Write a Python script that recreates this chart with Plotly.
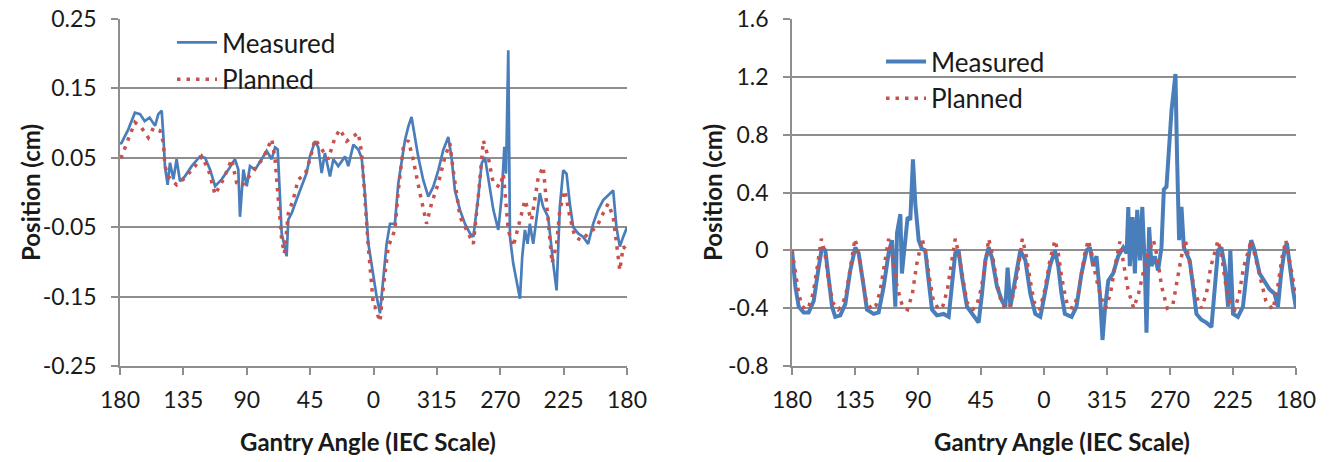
import plotly.graph_objects as go

# Gantry progression (0..360 along the arc) with IEC angle labels
gantry_tickvals = [0, 45, 90, 135, 180, 225, 270, 315, 360]
gantry_labels = ["180", "135", "90", "45", "0", "315", "270", "225", "180"]

left_yticks = [-0.25, -0.15, -0.05, 0.05, 0.15, 0.25]
left_ylabels = ["-0.25", "-0.15", "-0.05", "0.05", "0.15", "0.25"]
right_yticks = [-0.8, -0.4, 0, 0.4, 0.8, 1.2, 1.6]
right_ylabels = ["-0.8", "-0.4", "0", "0.4", "0.8", "1.2", "1.6"]

# Left panel – measured
left_meas_x = [0, 1.2, 5.9, 10.6, 14.2, 17.5, 21, 24.9, 27.2, 29.6, 30.8, 31.9, 33.8, 35.5, 37.9, 40.2, 42.6, 46,
               50.9, 56.8, 60.4, 64, 67.5, 72.2, 77, 81.6, 84, 85.2, 87.6, 90, 92.3, 95.9, 100.6, 104.1, 107.7,
               110.1, 112, 113.6, 114.8, 116.7, 118.3, 119.5, 121.9, 125.4, 129, 132.5, 134.9, 138.5, 140.8,
               143.2, 145.5, 149.1, 151.5, 155, 159.8, 162.1, 165.7, 169.2, 171.6, 173.9, 176.3, 180, 182.2,
               184.6, 187, 189.3, 191.7, 195.2, 197.6, 200, 202.3, 204.7, 207, 209.4, 211.8, 215.3, 218.9,
               222.4, 226, 229.5, 233.1, 235.4, 237.8, 241.4, 244.9, 248.5, 250.9, 254.4, 256.8, 259.1, 261.5,
               265.1, 268.6, 271, 272.9, 274.1, 275.7, 276.9, 279.2, 281.6, 284, 285.6, 287.5, 289.4, 291,
               293.4, 295.8, 298.1, 300.5, 304, 307.6, 310, 312.3, 314.7, 317.1, 319.4, 321.8, 325.3, 328.9,
               332.4, 336, 339.5, 343.1, 346.6, 350.2, 352.5, 354.9, 357.3, 360]
left_meas_y = [0.07, 0.072, 0.091, 0.115, 0.113, 0.103, 0.108, 0.096, 0.113, 0.118, 0.081, 0.038, 0.011, 0.043,
               0.019, 0.048, 0.016, 0.023, 0.038, 0.052, 0.05, 0.033, 0.009, 0.019, 0.033, 0.048, 0.033, -0.035,
               0.033, 0.009, 0.038, 0.033, 0.048, 0.06, 0.048, 0.065, 0.062, -0.01, -0.059, -0.076, -0.092,
               -0.039, -0.03, -0.01, 0.009, 0.028, 0.052, 0.074, 0.065, 0.028, 0.057, 0.023, 0.048, 0.038, 0.052,
               0.038, 0.069, 0.062, 0.05, -0.001, -0.073, -0.126, -0.15, -0.174, -0.122, -0.074, -0.045, -0.045,
               0.013, 0.042, 0.075, 0.095, 0.109, 0.08, 0.051, 0.018, -0.006, 0.008, 0.032, 0.061, 0.08, 0.051,
               0.003, -0.025, -0.045, -0.059, -0.064, -0.006, 0.042, 0.051, 0.018, -0.025, -0.054, -0.006, 0.066,
               0.027, 0.205, -0.064, -0.102, -0.126, -0.153, -0.093, -0.054, -0.074, -0.045, -0.074, -0.035,
               -0.001, -0.021, -0.035, -0.102, -0.141, -0.021, 0.032, 0.027, -0.016, -0.05, -0.059, -0.064,
               -0.074, -0.045, -0.025, -0.011, -0.004, 0.003, -0.05, -0.078, -0.064, -0.05]

# Left panel – planned
left_plan_x = [0, 1.2, 5.9, 10.6, 15.4, 20.1, 23.7, 28.4, 30.8, 31.9, 34.3, 40.2, 46, 53.3, 58, 62.8, 67.5, 73.4,
               79.3, 82.8, 86.4, 91.1, 95.9, 101.8, 107.7, 110.1, 112.4, 114.8, 116.7, 119.5, 123, 126.6, 131.4,
               134.9, 138.5, 143.2, 147.9, 152.6, 156.2, 160.9, 165.7, 169.2, 171.6, 173.5, 176.3, 180, 181,
               184.6, 187, 190.5, 195.2, 197.6, 201.2, 204.7, 208.2, 213, 217.7, 221.2, 226, 230.7, 234.2,
               236.6, 241.4, 246.1, 250.9, 254.4, 258, 261.5, 265.1, 269.8, 272.2, 275.7, 279.2, 284, 287.5,
               292.2, 297, 300.5, 304, 306.8, 310, 312.3, 315.9, 319.4, 323, 327.7, 332.4, 338.4, 343.1, 346.6,
               350.2, 353.3, 354.9, 357.3, 360]
left_plan_y = [0.05, 0.052, 0.077, 0.101, 0.093, 0.079, 0.093, 0.089, 0.072, 0.038, 0.023, 0.011, 0.021, 0.038,
               0.052, 0.033, -0.003, 0.019, 0.048, 0.014, 0.009, 0.021, 0.033, 0.05, 0.077, 0.048, -0.01, -0.068,
               -0.088, -0.03, -0.01, 0.019, 0.026, 0.048, 0.077, 0.062, 0.048, 0.079, 0.091, 0.074, 0.081, 0.086,
               0.057, -0.001, -0.078, -0.165, -0.165, -0.186, -0.136, -0.078, -0.054, 0.003, 0.066, 0.075, 0.047,
               -0.001, -0.045, -0.016, 0.013, 0.051, 0.071, 0.032, -0.035, -0.054, -0.074, -0.006, 0.075, 0.051,
               0.013, 0.008, 0.027, -0.054, -0.078, -0.04, -0.011, -0.04, 0.022, 0.037, -0.045, -0.102, -0.074,
               -0.025, 0.003, -0.035, -0.064, -0.069, -0.059, -0.05, -0.03, -0.016, -0.035, -0.093, -0.112,
               -0.078, -0.083]

# Right panel – measured
right_meas_x = [0, 2.4, 4.8, 8.3, 11.9, 15.5, 19, 21.4, 23.8, 26.2, 28.6, 30.9, 34.5, 38.1, 41.6, 45.2, 47.6,
                51.2, 53.5, 58.3, 61.9, 65.5, 69, 71.4, 73.8, 75, 77.4, 78.5, 80.9, 82.6, 84.5, 86.4, 88.1, 90.5,
                92.8, 95.2, 97.6, 100, 103.5, 108.3, 111.9, 114.3, 116.6, 119, 121.4, 125, 128.5, 133.3, 135.7,
                138.1, 140.5, 142.8, 146.4, 150, 152.4, 154, 156, 159.5, 163.1, 166.7, 170.2, 173.8, 177.4,
                180.6, 184.2, 187.8, 190.2, 192.5, 194.9, 199.7, 203.2, 206.8, 210.4, 212.8, 215.1, 217.5, 219.9,
                221.8, 223.5, 225.9, 229.4, 233, 236.6, 239, 240.2, 241.3, 243.3, 244.9, 246.6, 248.5, 250.2,
                252, 253.2, 255.1, 256.8, 259.1, 261.5, 263.9, 265.6, 267.5, 269.4, 271.1, 272.7, 273.9, 275.1,
                276.5, 278.2, 279.9, 281.7, 284.1, 286.5, 288.9, 292.4, 296, 299.6, 301.9, 304.3, 306.7, 309.1,
                311.5, 313.1, 315, 318.5, 322.1, 325.7, 328, 330.4, 334, 337.5, 341.1, 344.7, 347.1, 349.4,
                351.8, 353.5, 355.4, 357.8, 360]
right_meas_y = [0.0, -0.25, -0.39, -0.43, -0.43, -0.35, -0.12, 0.02, 0.0, -0.18, -0.39, -0.46, -0.45, -0.37,
                -0.14, 0.02, -0.02, -0.25, -0.41, -0.44, -0.43, -0.25, -0.02, 0.07, -0.39, 0.12, 0.25, -0.16,
                0.09, 0.23, 0.21, 0.63, 0.32, 0.07, 0.01, 0.0, -0.21, -0.41, -0.45, -0.44, -0.46, -0.21, -0.02,
                0.0, -0.18, -0.39, -0.44, -0.5, -0.3, -0.07, 0.02, -0.05, -0.25, -0.35, -0.39, -0.12, -0.39,
                -0.21, 0.0, -0.07, -0.3, -0.44, -0.46, -0.3, -0.11, 0.0, -0.11, -0.3, -0.44, -0.46, -0.39, -0.16,
                0.0, 0.02, -0.11, -0.04, -0.3, -0.62, -0.41, -0.21, -0.16, -0.04, 0.02, -0.02, 0.3, -0.11, 0.23,
                -0.16, 0.28, -0.07, 0.3, -0.11, -0.57, 0.16, -0.11, -0.04, -0.14, 0.02, 0.42, 0.44, 0.74, 0.97,
                1.11, 1.22, 0.62, 0.07, 0.3, 0.02, -0.02, -0.07, -0.25, -0.44, -0.48, -0.5, -0.53, -0.3, 0.0,
                0.02, -0.11, -0.39, 0.0, -0.44, -0.46, -0.39, -0.07, 0.07, 0.0, -0.16, -0.21, -0.27, -0.3, -0.39,
                -0.16, 0.0, 0.05, -0.11, -0.27, -0.4]

# Right panel – planned
right_plan_x = [0, 2.4, 4.8, 7, 9.5, 12, 15, 17.5, 21, 23.5, 26, 29, 33, 36, 39, 42, 45, 47.5, 50, 53, 57, 60,
                63, 66, 69, 72, 75, 79, 82.5, 86, 89, 93, 95.5, 98, 101, 105, 108, 111, 114, 116.6, 119, 122,
                125, 129, 132, 135, 138, 140.5, 143, 146, 149, 152.5, 156, 159, 162, 164.5, 167, 170, 173, 177,
                180.6, 184.2, 187.8, 190.2, 192.5, 194.9, 197, 200.9, 204.5, 206.8, 209.2, 211.6, 214, 217,
                220.5, 224, 227.5, 230.5, 234.2, 237, 240, 244, 247.5, 251, 254.5, 258.2, 261, 264, 268, 272,
                275, 278, 281, 284, 288, 292.4, 296, 299, 301.5, 304.3, 307, 310, 313, 316.2, 319.5, 322.5, 325.5,
                328, 331, 334.5, 338.5, 343.5, 347, 350, 352.7, 355, 357.5, 360]
right_plan_y = [0.0, -0.15, -0.3, -0.38, -0.41, -0.39, -0.3, -0.15, 0.08, -0.02, -0.2, -0.36, -0.41, -0.38,
                -0.28, -0.1, 0.08, -0.02, -0.18, -0.35, -0.41, -0.38, -0.28, -0.1, 0.08, -0.05, -0.25, -0.39,
                -0.41, -0.3, -0.1, 0.08, -0.02, -0.18, -0.35, -0.41, -0.38, -0.27, -0.1, 0.08, -0.02, -0.2,
                -0.36, -0.41, -0.38, -0.27, -0.1, 0.08, -0.02, -0.2, -0.34, -0.41, -0.38, -0.27, -0.1, 0.08,
                -0.02, -0.2, -0.36, -0.41, -0.27, -0.07, 0.07, -0.02, -0.18, -0.3, -0.39, -0.4, -0.3, -0.16,
                -0.02, 0.07, -0.02, -0.18, -0.32, -0.4, -0.3, -0.12, 0.06, -0.1, -0.27, -0.4, -0.3, -0.15,
                -0.02, 0.07, -0.05, -0.25, -0.4, -0.38, -0.2, -0.05, 0.07, -0.08, -0.3, -0.4, -0.3, -0.12,
                -0.02, 0.07, -0.05, -0.25, -0.38, -0.41, -0.3, -0.12, -0.02, 0.07, -0.05, -0.2, -0.35, -0.41,
                -0.25, -0.05, 0.07, -0.05, -0.2, -0.32]

BLUE = "#4A7EBB"
RED = "#C8504D"
GRID = "#8E8E8E"
FONT = "Lato, 'Liberation Sans', sans-serif"
TXT = "#1A1A1A"

W, H = 1339, 462


def px_x(p):
    return p / W


def px_y(p):
    return 1 - p / H


fig = go.Figure()

fig.add_trace(go.Scatter(x=left_meas_x, y=left_meas_y, mode="lines", name="Measured",
                         line=dict(color=BLUE, width=2.7), xaxis="x", yaxis="y",
                         legend="legend", legendgroup="m"))
fig.add_trace(go.Scatter(x=left_plan_x, y=left_plan_y, mode="lines", name="Planned",
                         line=dict(color=RED, width=3.5, dash="3.5px,6px"), xaxis="x", yaxis="y",
                         legend="legend", legendgroup="p"))
fig.add_trace(go.Scatter(x=right_meas_x, y=right_meas_y, mode="lines", name="Measured",
                         line=dict(color=BLUE, width=4), xaxis="x2", yaxis="y2",
                         legend="legend2", legendgroup="m2"))
fig.add_trace(go.Scatter(x=right_plan_x, y=right_plan_y, mode="lines", name="Planned",
                         line=dict(color=RED, width=3.5, dash="3.5px,6px"), xaxis="x2", yaxis="y2",
                         legend="legend2", legendgroup="p2"))

xcommon = dict(range=[0, 360], tickmode="array", tickvals=gantry_tickvals, ticktext=gantry_labels,
               showgrid=False, zeroline=False, showline=True, linecolor=GRID, linewidth=1.5,
               ticks="outside", ticklen=7, tickcolor=GRID, tickwidth=1.5, automargin=False,
               tickfont=dict(family=FONT, size=23, color=TXT), ticklabelstandoff=6)
ycommon = dict(showgrid=True, gridcolor=GRID, gridwidth=1.5, zeroline=False, showline=True,
               linecolor=GRID, linewidth=1.5, ticks="outside", ticklen=7, tickcolor=GRID, tickwidth=1.5,
               automargin=False, tickfont=dict(family=FONT, size=23, color=TXT), ticklabelstandoff=10)

ydom = [px_y(366), px_y(19)]

fig.update_layout(
    width=W, height=H,
    margin=dict(l=0, r=0, t=0, b=0, autoexpand=False),
    paper_bgcolor="white", plot_bgcolor="white",
    font=dict(family=FONT, color=TXT),
    xaxis=dict(domain=[px_x(120), px_x(627)], anchor="y", **xcommon),
    yaxis=dict(domain=ydom, anchor="x", range=[-0.25, 0.25], tickmode="array",
               tickvals=left_yticks, ticktext=left_ylabels, **ycommon),
    xaxis2=dict(domain=[px_x(792), px_x(1296)], anchor="y2", **xcommon),
    yaxis2=dict(domain=ydom, anchor="x2", range=[-0.8, 1.6], tickmode="array",
                tickvals=right_yticks, ticktext=right_ylabels, **ycommon),
    legend=dict(x=px_x(172), y=px_y(19), xanchor="left", yanchor="top", bgcolor="rgba(0,0,0,0)",
                font=dict(family=FONT, size=26, color=TXT), tracegroupgap=0, itemwidth=40),
    legend2=dict(x=px_x(881), y=px_y(38), xanchor="left", yanchor="top", bgcolor="rgba(0,0,0,0)",
                 font=dict(family=FONT, size=26, color=TXT), tracegroupgap=0, itemwidth=40),
    showlegend=True,
)

title_font = dict(family=FONT, size=24, color=TXT, weight="bold")
for tx, ty, txt, ang in [(30, 193, "Position (cm)", -90), (712, 193, "Position (cm)", -90),
                         (368, 441, "Gantry Angle (IEC Scale)", 0), (1062, 441, "Gantry Angle (IEC Scale)", 0)]:
    fig.add_annotation(text=txt, x=px_x(tx), y=px_y(ty), xref="paper", yref="paper",
                       xanchor="center", yanchor="middle", textangle=ang, showarrow=False,
                       font=title_font)

fig.write_html("out.html", config={"displayModeBar": False},
               post_script="document.body.style.margin='0px';")
